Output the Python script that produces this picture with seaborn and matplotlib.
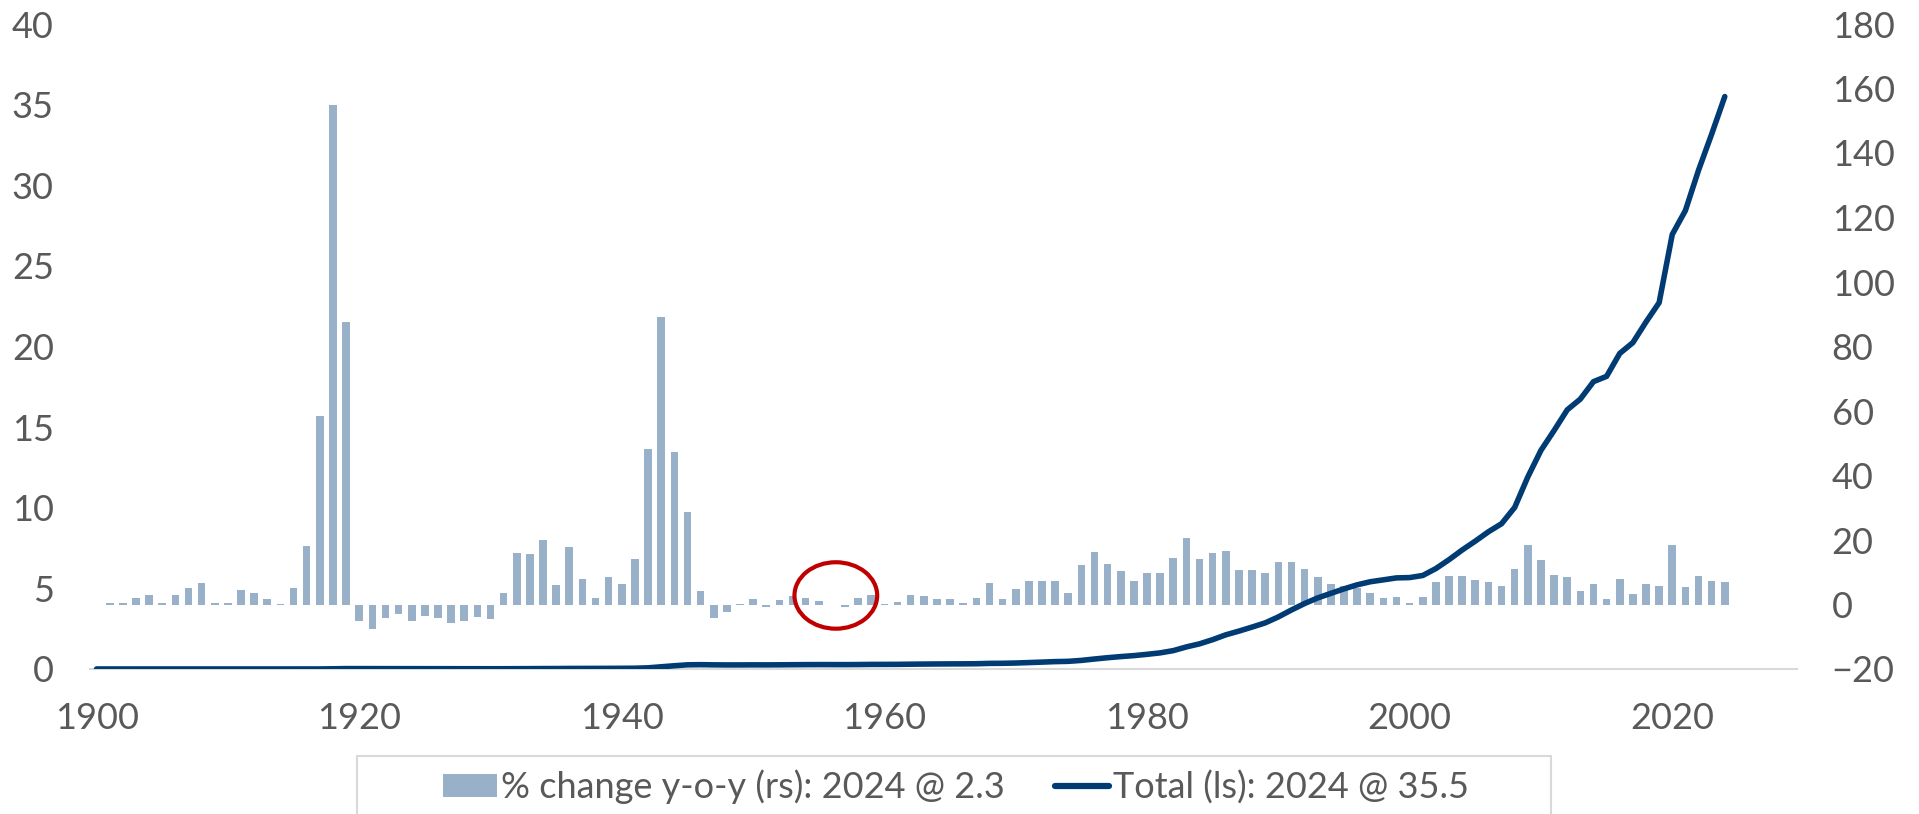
import numpy as np
import pandas as pd
import matplotlib.pyplot as plt
from matplotlib.patches import Ellipse, Rectangle, Patch
from matplotlib.lines import Line2D
import seaborn as sns

sns.set_theme(style="white")
plt.rcParams["font.family"] = ["Lato", "DejaVu Sans"]

# total (left scale), 1900-2024
total_years = list(range(1900, 2025))
total = [
    0.0021, 0.0021, 0.0022, 0.0022, 0.0023, 0.0023, 0.0023, 0.0024, 0.0026, 0.0026,
    0.0026, 0.0027, 0.0027, 0.0027, 0.0027, 0.0029, 0.0034, 0.0030, 0.0120, 0.0255,
    0.0243, 0.0240, 0.0230, 0.0223, 0.0212, 0.0205, 0.0195, 0.0185, 0.0176, 0.0169,
    0.0162, 0.0168, 0.0195, 0.0225, 0.0270, 0.0287, 0.0338, 0.0364, 0.0371, 0.0403,
    0.0430, 0.0490, 0.0725, 0.1370, 0.2010, 0.2590, 0.2690, 0.2580, 0.2520, 0.2530,
    0.2570, 0.2550, 0.2590, 0.2660, 0.2710, 0.2740, 0.2730, 0.2710, 0.2760, 0.2850,
    0.2860, 0.2890, 0.2980, 0.3060, 0.3120, 0.3170, 0.3200, 0.3260, 0.3480, 0.3540,
    0.3710, 0.3980, 0.4270, 0.4580, 0.4750, 0.5330, 0.6200, 0.7000, 0.7700, 0.8300,
    0.9100, 1.00, 1.14, 1.37, 1.56, 1.82, 2.12, 2.35, 2.60, 2.86,
    3.23, 3.66, 4.06, 4.41, 4.69, 4.97, 5.22, 5.41, 5.53, 5.65,
    5.67, 5.80, 6.23, 6.78, 7.38, 7.93, 8.51, 9.01, 10.02, 11.91,
    13.56, 14.79, 16.07, 16.74, 17.82, 18.15, 19.57, 20.24, 21.52, 22.72,
    26.95, 28.43, 30.93, 33.17, 35.5,
]

# % change y-o-y (right scale), 1901-2024
chg_years = list(range(1901, 2025))
chg = [
    0.4, 0.6, 1.9, 2.9, 0.5, 2.9, 5.2, 6.8, 0.5,
    0.5, 4.4, 3.7, 1.7, 0.1, 5.0, 18.1, 58.4, 155.0, 87.7,
    -5.2, -7.6, -4.2, -2.8, -5.0, -3.6, -4.2, -5.7, -5.0, -3.9,
    -4.4, 3.7, 16.0, 15.6, 20.0, 5.9, 17.7, 7.8, 1.9, 8.6,
    6.3, 14.0, 48.1, 89.0, 47.2, 28.7, 4.2, -4.2, -2.3, 0.2,
    1.7, -0.8, 1.4, 2.6, 1.9, 1.0, -0.2, -0.7, 2.1, 2.8,
    0.3, 0.7, 3.0, 2.5, 1.8, 1.7, 0.6, 2.0, 6.6, 1.8,
    4.9, 7.4, 7.3, 7.3, 3.6, 12.2, 16.4, 12.6, 10.3, 7.2,
    9.8, 9.9, 14.5, 20.5, 14.1, 15.9, 16.7, 10.6, 10.8, 9.7,
    13.1, 13.3, 10.9, 8.5, 6.4, 5.7, 5.2, 3.5, 2.1, 2.4,
    0.4, 2.4, 7.1, 8.9, 8.9, 7.5, 7.1, 5.8, 11.1, 18.6,
    13.75, 9.0, 8.6, 4.2, 6.5, 1.8, 7.8, 3.3, 6.4, 5.6,
    18.6, 5.4, 8.75, 7.2, 6.9,
]

bar_label = "% change y-o-y (rs): 2024 @ 2.3"
line_label = "Total (ls): 2024 @ 35.5"
bar_color = "#98B1C9"
line_color = "#003B73"
text_color = "#595959"

df_total = pd.DataFrame({"year": total_years, "total": total})
df_chg = pd.DataFrame({"year": chg_years, "chg": chg})

fig = plt.figure(figsize=(19.19, 8.14), dpi=100)
ax = fig.add_axes([90 / 1919, 1 - 669 / 814, (1797 - 90) / 1919, (669 - 24) / 814])
ax2 = ax.twinx()

sns.barplot(data=df_chg, x="year", y="chg", native_scale=True, width=0.58,
            color=bar_color, saturation=1, linewidth=0, ax=ax2)
sns.lineplot(data=df_total, x="year", y="total", color=line_color,
             linewidth=4, ax=ax)

# keep the line above the bars
ax.set_zorder(ax2.get_zorder() + 1)
ax.patch.set_visible(False)

ax.set_xlim(1899.5, 2029.5)
ax.set_ylim(0, 40)
ax2.set_ylim(-20, 180)
ax.set_yticks(range(0, 41, 5))
ax2.set_yticks(range(-20, 181, 20))
ax.set_xticks(range(1900, 2021, 20))

ax.set_xlabel("")
ax.set_ylabel("")
ax2.set_xlabel("")
ax2.set_ylabel("")

for a in (ax, ax2):
    for s in a.spines.values():
        s.set_visible(False)
    a.grid(False)
ax2.spines["bottom"].set_visible(True)
ax2.spines["bottom"].set_color("#D9D9D9")
ax2.spines["bottom"].set_linewidth(1.5)

ax.tick_params(axis="y", length=0, pad=26, labelsize=26, labelcolor=text_color)
ax.tick_params(axis="x", length=0, pad=24, labelsize=26, labelcolor=text_color)
ax2.tick_params(axis="y", length=0, pad=25, labelsize=26, labelcolor=text_color)
for lbl in ax2.get_yticklabels():
    lbl.set_horizontalalignment("left")

# red highlight ring
ax2.add_patch(Ellipse((1956.3, 2.8), width=6.3, height=20.6, fill=False,
                      edgecolor="#C00000", linewidth=3, zorder=5))

# legend in a box along the bottom
handles = [Patch(facecolor=bar_color, edgecolor="none"),
           Line2D([0], [0], color=line_color, linewidth=4.5)]
fig.legend(handles, [bar_label, line_label], loc="center",
           bbox_to_anchor=(956 / 1919, 1 - 787 / 814), ncol=2, frameon=False,
           fontsize=26, handlelength=1.5, handleheight=0.6,
           handletextpad=0.1, columnspacing=1.4, labelcolor=text_color)
fig.add_artist(Rectangle((357 / 1919, -0.05), (1551 - 357) / 1919,
                         1 - 756 / 814 + 0.05, transform=fig.transFigure,
                         fill=False, edgecolor="#D9D9D9", linewidth=1.5))

fig.savefig("out.png", dpi=100)
